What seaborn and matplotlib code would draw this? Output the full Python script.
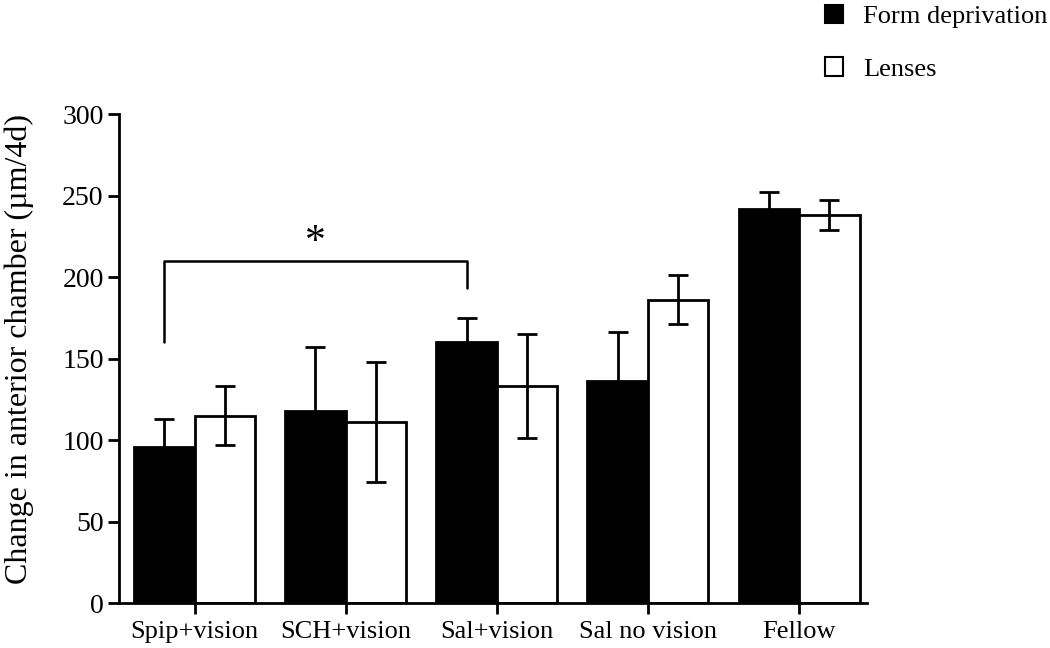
import pandas as pd
import numpy as np
import matplotlib
matplotlib.use("Agg")
import matplotlib.pyplot as plt
import seaborn as sns
from matplotlib.patches import Patch

groups = ["Spip+vision", "SCH+vision", "Sal+vision", "Sal no vision", "Fellow"]
conditions = ["Form deprivation", "Lenses"]
form_deprivation = [96, 118, 160, 136, 242]
form_deprivation_err = [17, 39, 15, 30, 10]
lenses = [115, 111, 133, 186, 238]
lenses_err = [18, 37, 32, 15, 9]

df = pd.DataFrame({
    "group": groups * 2,
    "condition": [conditions[0]] * len(groups) + [conditions[1]] * len(groups),
    "value": form_deprivation + lenses,
    "err": form_deprivation_err + lenses_err,
})

sns.set_style("ticks")
plt.rcParams["font.family"] = ["Liberation Serif", "DejaVu Serif"]
plt.rcParams.update({"text.color": "black", "axes.labelcolor": "black",
                     "xtick.color": "black", "ytick.color": "black"})

fig = plt.figure(figsize=(10.5, 6.48), dpi=100)
ax = fig.add_axes([0.1133, 0.0694, 0.7125, 0.7546])

sns.barplot(data=df, x="group", y="value", hue="condition", order=groups,
            hue_order=conditions, palette=["black", "white"], edgecolor="black",
            linewidth=2, errorbar=None, width=0.8, legend=False, ax=ax)

# error bars on top of each bar (patches are ordered by hue, then group)
bars = [p for p in ax.patches if p.get_height() > 0]
for bar, err in zip(bars, df["err"]):
    xc = bar.get_x() + bar.get_width() / 2
    ax.errorbar(xc, bar.get_height(), yerr=err, color="black", lw=2,
                capsize=7, capthick=2, zorder=5)

# significance bracket between Spip+vision and Sal+vision (form deprivation)
x0 = bars[0].get_x() + bars[0].get_width() / 2
x1 = bars[2].get_x() + bars[2].get_width() / 2
ax.plot([x0, x0, x1, x1], [160, 210, 210, 193], color="black", lw=1.8)
ax.text((x0 + x1) / 2, 221, "*", ha="center", va="center", fontsize=30)

ax.set_ylim(0, 300)
ax.set_xlim(-0.5, 4.45)
ax.set_yticks(np.arange(0, 301, 50))
ax.set_xlabel("")
ax.set_ylabel("Change in anterior chamber (\u00b5m/4d)", fontsize=23)
ax.yaxis.set_label_coords(-0.113, 0.52)
ax.tick_params(axis="both", labelsize=20, width=2, length=8)
ax.tick_params(axis="y", pad=3)
ax.tick_params(axis="x", labelsize=19, pad=5)
for side in ["left", "bottom"]:
    ax.spines[side].set_linewidth(2)
    ax.spines[side].set_color("black")
sns.despine(ax=ax)

handles = [Patch(facecolor="black", edgecolor="black", linewidth=1.5),
           Patch(facecolor="white", edgecolor="black", linewidth=1.5)]
fig.legend(handles, conditions, loc="upper left", bbox_to_anchor=(0.763, 1.029),
           frameon=False, fontsize=19, handlelength=0.7, handleheight=0.7,
           labelspacing=1.1, handletextpad=0.75)

fig.savefig("out.png", dpi=100)
